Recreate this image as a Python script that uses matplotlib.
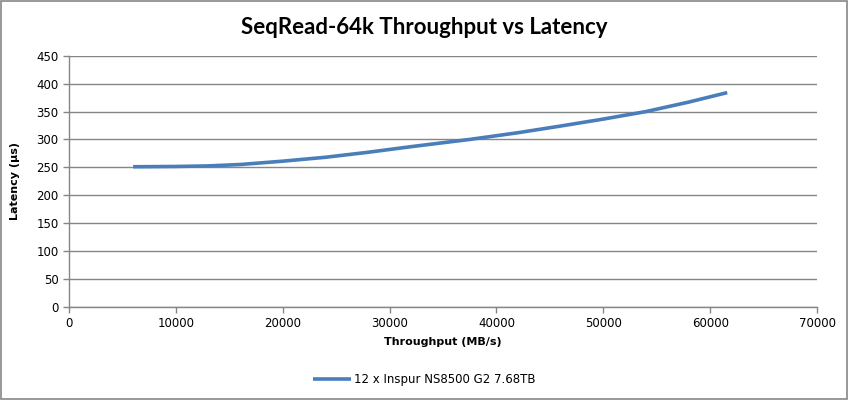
import matplotlib
matplotlib.use("Agg")
import matplotlib.pyplot as plt

# values
throughput = [6000, 10000, 13000, 16000, 20000, 24000, 28000, 32000, 37500, 42000, 46000, 50000, 54000, 58000, 61600]
latency = [251, 251.5, 252.5, 255, 261, 268, 277, 287, 300, 312, 324, 336.5, 350, 367, 384]
series_name = "12 x Inspur NS8500 G2 7.68TB"
title = "SeqRead-64k Throughput vs Latency"
x_ticks = list(range(0, 70001, 10000))
y_ticks = list(range(0, 451, 50))

grid_col = "#868686"
line_col = "#4a7ebb"

fig = plt.figure(figsize=(8.49, 4.0), dpi=100)
ax = fig.add_axes([69 / 849, 1 - 306.7 / 400, (817 - 69) / 849, (306.7 - 55.8) / 400])

ax.plot(throughput, latency, color=line_col, lw=2.6, solid_capstyle="butt", solid_joinstyle="round")

ax.set_xlim(0, 70000)
ax.set_ylim(0, 450)
ax.set_xticks(x_ticks)
ax.set_yticks(y_ticks)
ax.grid(axis="y", color=grid_col, lw=1)
ax.set_axisbelow(True)
for s in ["top", "right"]:
    ax.spines[s].set_visible(False)
for s in ["left", "bottom"]:
    ax.spines[s].set_color(grid_col)
    ax.spines[s].set_linewidth(1)
ax.tick_params(colors=grid_col, length=4, width=1, labelcolor="black", labelsize=8.5)
for lab in ax.get_xticklabels() + ax.get_yticklabels():
    lab.set_family("DejaVu Sans")

ax.set_xlabel("Throughput (MB/s)", fontsize=8, fontweight="bold", family="DejaVu Sans", labelpad=5)
ax.set_ylabel("Latency (µs)", fontsize=8, fontweight="bold", family="DejaVu Sans", labelpad=12)

fig.text(0.5, 1 - 28 / 400, title, ha="center", va="center", fontsize=16,
         fontweight="bold", family="Lato")

leg = fig.legend([ax.lines[0]], [series_name], loc="center", bbox_to_anchor=(0.5, 1 - 380 / 400),
                 frameon=False, handlelength=3.2, handletextpad=0.3,
                 prop={"family": "DejaVu Sans", "size": 8.5})

# outer border like the Excel chart area
fig.patches.append(plt.Rectangle((0.001, 0.002), 0.997, 0.996, transform=fig.transFigure,
                                 fill=False, edgecolor=grid_col, lw=1.2))

fig.savefig("out.png", dpi=100)
